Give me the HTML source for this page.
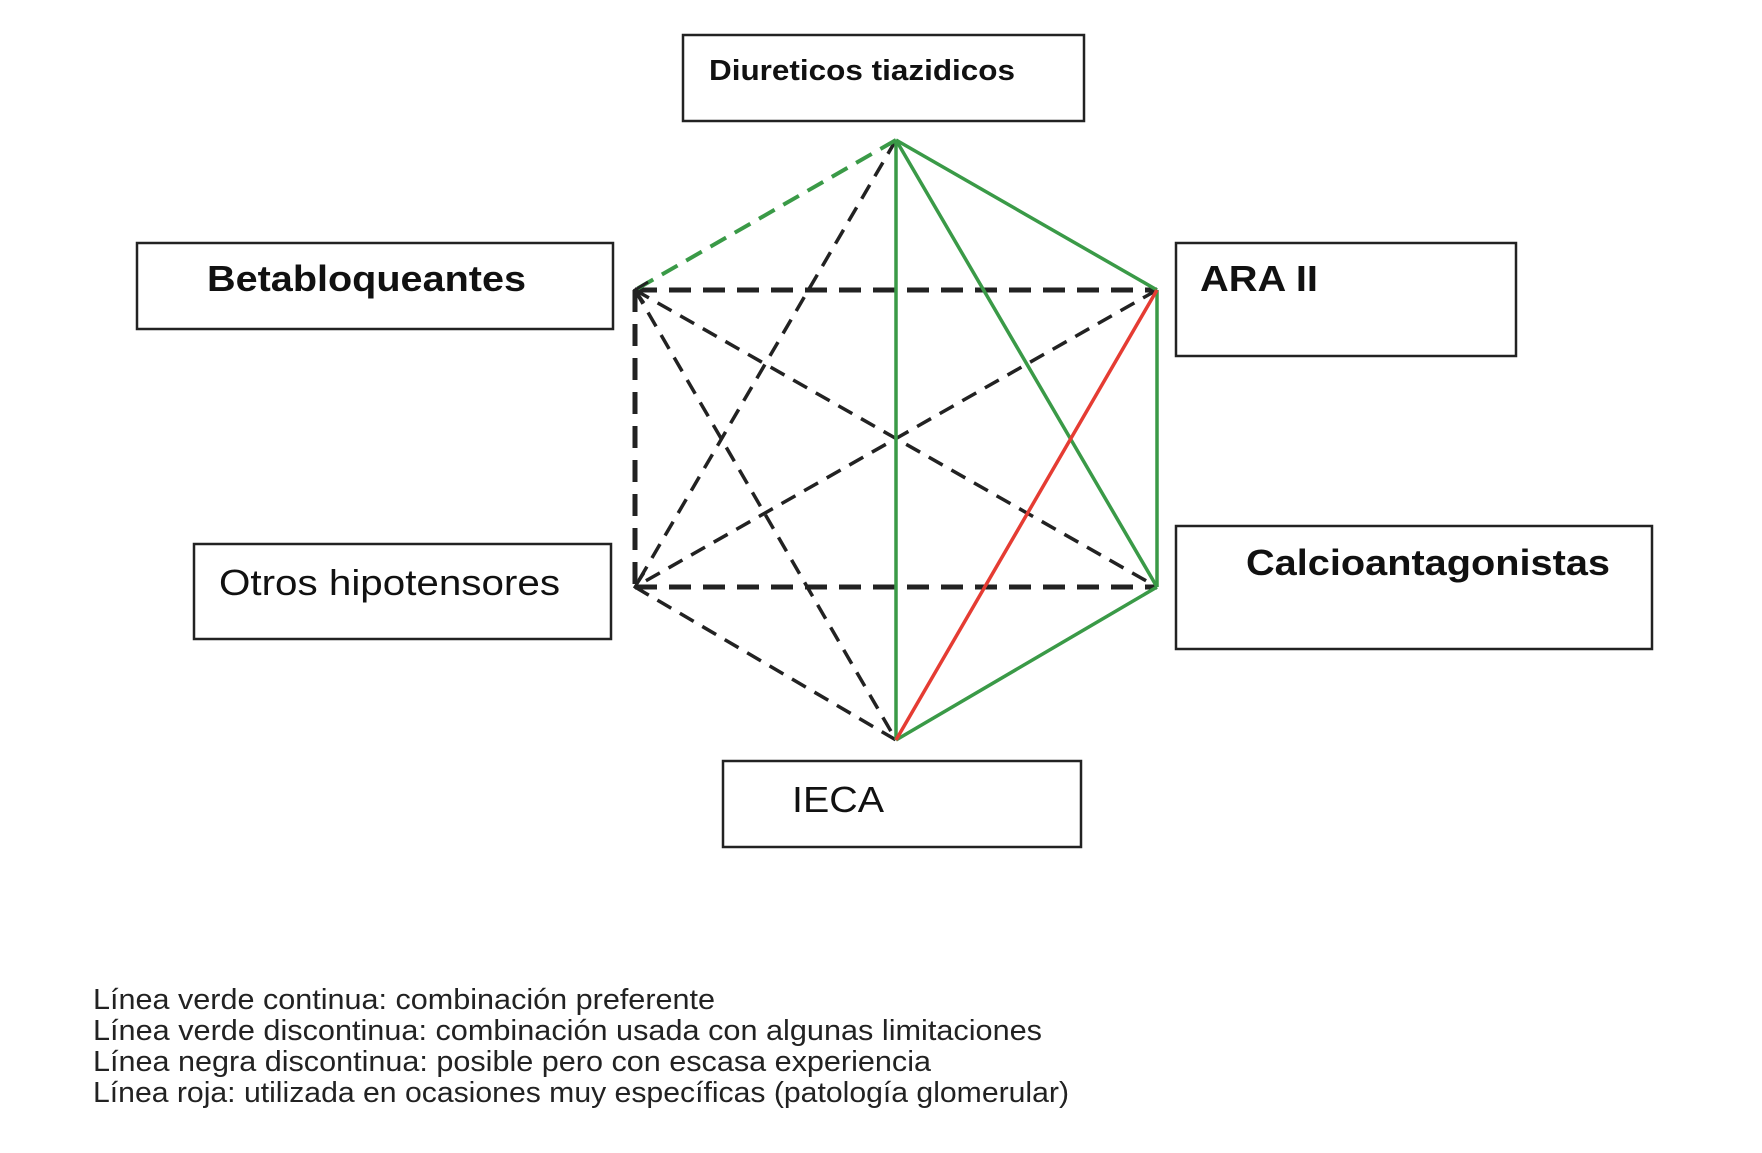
<!DOCTYPE html>
<html><head><meta charset="utf-8"><style>html,body{margin:0;padding:0;background:#fff}</style></head>
<body>
<svg width="1762" height="1148" viewBox="0 0 1762 1148" xmlns="http://www.w3.org/2000/svg" font-family="Liberation Sans, sans-serif">
<g fill="none" stroke="#222" stroke-width="2.5">
<rect x="683" y="35" width="401" height="86"/>
<rect x="137" y="243" width="476" height="86"/>
<rect x="1176" y="243" width="340" height="113"/>
<rect x="194" y="544" width="417" height="95"/>
<rect x="1176" y="526" width="476" height="123"/>
<rect x="723" y="761" width="358" height="86"/>
</g>
<!-- black thin dashed -->
<g stroke="#222" stroke-width="3.5" stroke-dasharray="16,10" fill="none">
<line x1="896" y1="140" x2="635" y2="587"/>
<line x1="635" y1="290" x2="1157" y2="587"/>
<line x1="1157" y1="290" x2="635" y2="587"/>
<line x1="635" y1="290" x2="896" y2="740"/>
<line x1="635" y1="587" x2="896" y2="740"/>
</g>
<!-- black thick dashed -->
<g stroke="#222" stroke-width="5" stroke-dasharray="22,12" fill="none">
<line x1="635" y1="290" x2="1157" y2="290"/>
<line x1="635" y1="587" x2="1157" y2="587"/>
<line x1="635" y1="290" x2="635" y2="587"/>
</g>
<line x1="896" y1="140" x2="635" y2="290" stroke="#3a9a47" stroke-width="4" stroke-dasharray="18,10"/>
<g stroke="#3a9a47" stroke-width="3.5" fill="none">
<line x1="896" y1="140" x2="1157" y2="290"/>
<line x1="896" y1="140" x2="896" y2="740"/>
<line x1="896" y1="140" x2="1157" y2="587"/>
<line x1="1157" y1="290" x2="1157" y2="587"/>
<line x1="1157" y1="587" x2="896" y2="740"/>
</g>
<line x1="1157" y1="290" x2="896" y2="740" stroke="#e53c33" stroke-width="3.5"/>
<g stroke="#222" stroke-width="3" fill="none">
<polyline points="648,282 635,290 644,303"/>
<polyline points="644,573 635,587 648,595"/>
</g>
<g fill="#111">
<text x="709" y="80" font-size="29" font-weight="bold" textLength="306" lengthAdjust="spacingAndGlyphs">Diureticos tiazidicos</text>
<text x="207" y="291" font-size="36" font-weight="bold" textLength="319" lengthAdjust="spacingAndGlyphs">Betabloqueantes</text>
<text x="1200" y="291" font-size="36" font-weight="bold" textLength="118" lengthAdjust="spacingAndGlyphs">ARA II</text>
<text x="1246" y="575" font-size="36" font-weight="bold" textLength="364" lengthAdjust="spacingAndGlyphs">Calcioantagonistas</text>
<text x="219" y="595" font-size="36" textLength="341" lengthAdjust="spacingAndGlyphs">Otros hipotensores</text>
<text x="792" y="812" font-size="36" textLength="92" lengthAdjust="spacingAndGlyphs">IECA</text>
</g>
<g fill="#222" font-size="29">
<text x="93" y="1009" textLength="622" lengthAdjust="spacingAndGlyphs">Línea verde continua: combinación preferente</text>
<text x="93" y="1040" textLength="949" lengthAdjust="spacingAndGlyphs">Línea verde discontinua: combinación usada con algunas limitaciones</text>
<text x="93" y="1071" textLength="838" lengthAdjust="spacingAndGlyphs">Línea negra discontinua: posible pero con escasa experiencia</text>
<text x="93" y="1102" textLength="976" lengthAdjust="spacingAndGlyphs">Línea roja: utilizada en ocasiones muy específicas (patología glomerular)</text>
</g>
</svg>
</body></html>
